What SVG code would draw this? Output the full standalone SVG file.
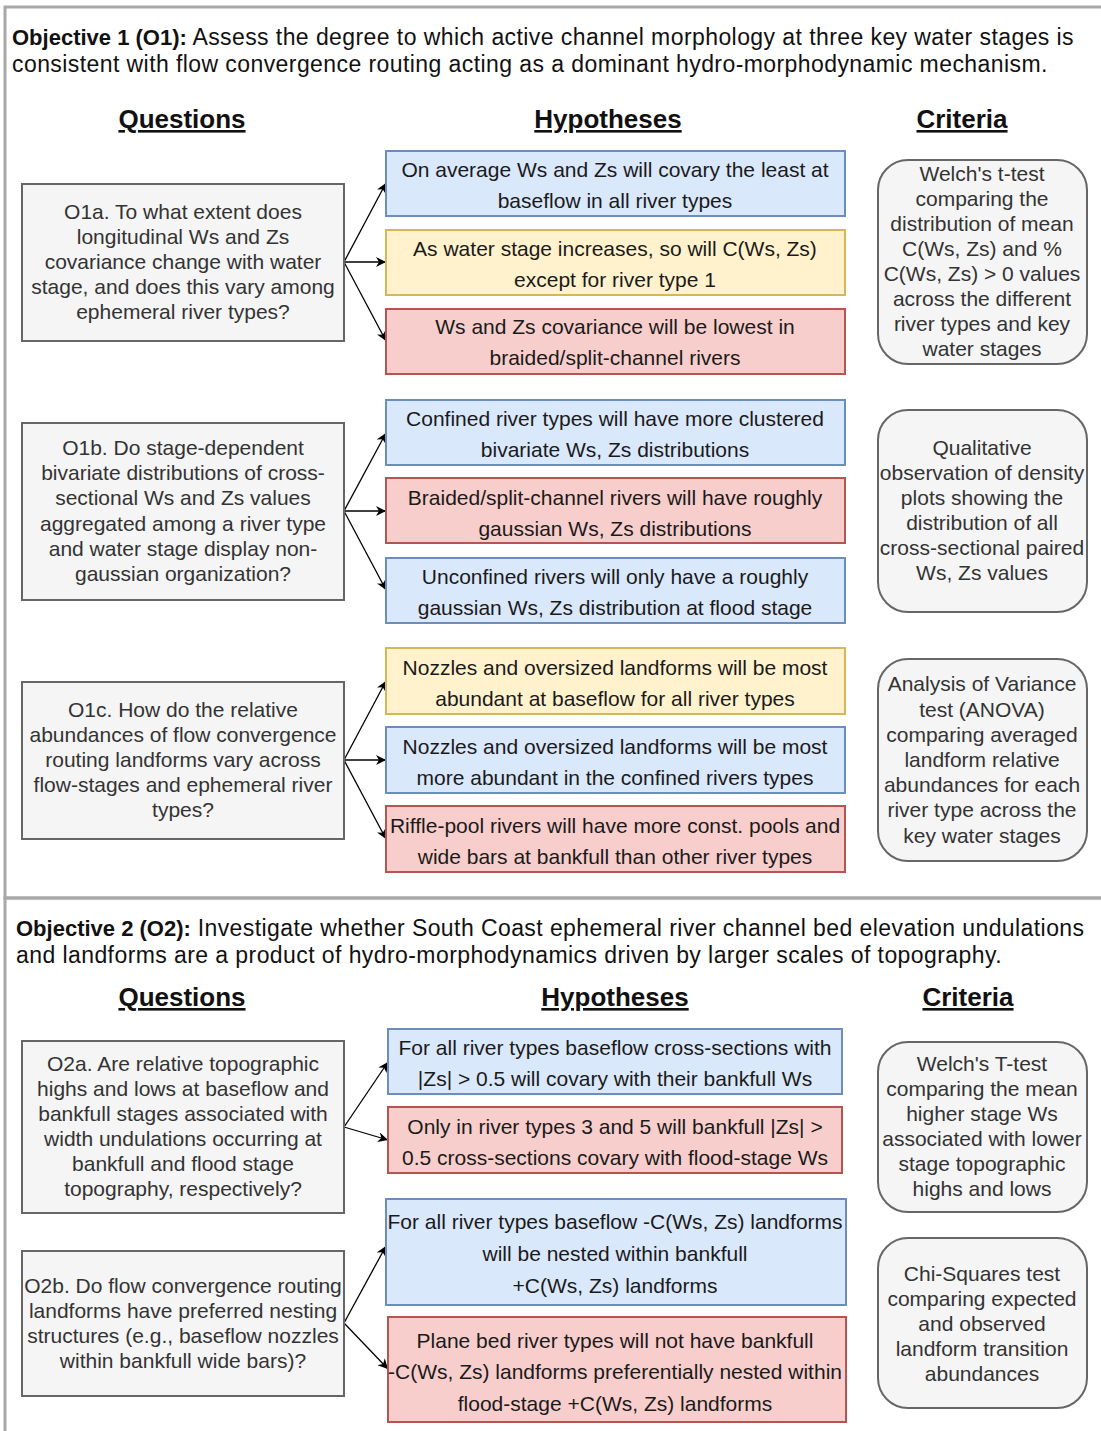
<svg xmlns="http://www.w3.org/2000/svg" width="1101" height="1431" viewBox="0 0 1101 1431">
<defs>
<style>
text{font-family:"Liberation Sans",Arial,sans-serif}
.t{font-size:23px;fill:#111;letter-spacing:0.42px}
.b{font-weight:bold;font-size:22px;letter-spacing:0}
.h{font-size:26px;font-weight:bold;fill:#111;text-anchor:middle;text-decoration:underline}
.q rect{fill:#f5f5f5;stroke:#666;stroke-width:2}
.q text{font-size:21px;fill:#333;text-anchor:middle}
.c text{font-size:21px;fill:#333;text-anchor:middle}
.c rect{fill:#f5f5f5;stroke:#666;stroke-width:2}
.hy text{font-size:21px;fill:#1a1a1a;text-anchor:middle}
.bl rect{fill:#dae8fc;stroke:#6c8ebf;stroke-width:2}
.ye rect{fill:#fff2cc;stroke:#d6b656;stroke-width:2}
.re rect{fill:#f8cecc;stroke:#b85450;stroke-width:2}
.e{stroke:#000;stroke-width:1.3;fill:none;marker-end:url(#ah)}
.frame{fill:none;stroke:#a8a8a8;stroke-width:3}
</style>
<marker id="ah" markerUnits="userSpaceOnUse" markerWidth="12" markerHeight="10" refX="10" refY="5" orient="auto">
<path d="M0,0 L10,5 L0,10 L3,5 z" fill="#000"/>
</marker>
</defs>
<rect x="0" y="0" width="1101" height="1431" fill="#fff"/>
<rect class="frame" x="5" y="7" width="1110" height="891"/>
<rect class="frame" x="5" y="898" width="1110" height="560"/>

<g id="title1">
<text class="t" x="12" y="45"><tspan class="b">Objective 1 (O1):</tspan> Assess the degree to which active channel morphology at three key water stages is</text>
<text class="t" x="12" y="72">consistent with flow convergence routing acting as a dominant hydro-morphodynamic mechanism.</text>
<text class="h" x="182" y="128">Questions</text>
<text class="h" x="608" y="128">Hypotheses</text>
<text class="h" x="962" y="128">Criteria</text>
</g>

<g id="connectors">
<line class="e" x1="344" y1="262" x2="386" y2="183"/>
<line class="e" x1="344" y1="262" x2="386" y2="262"/>
<line class="e" x1="344" y1="262" x2="386" y2="341"/>
<line class="e" x1="344" y1="511" x2="386" y2="433"/>
<line class="e" x1="344" y1="511" x2="386" y2="511"/>
<line class="e" x1="344" y1="511" x2="386" y2="590"/>
<line class="e" x1="344" y1="760" x2="386" y2="681"/>
<line class="e" x1="344" y1="760" x2="386" y2="760"/>
<line class="e" x1="344" y1="760" x2="386" y2="839"/>
<line class="e" x1="344" y1="1127" x2="388" y2="1062"/>
<line class="e" x1="344" y1="1127" x2="388" y2="1140"/>
<line class="e" x1="344" y1="1323" x2="386" y2="1246"/>
<line class="e" x1="344" y1="1323" x2="388" y2="1369"/>
</g>

<g id="q1a" class="q"><rect x="22" y="184" width="322" height="157"/>
<text x="183" y="219">O1a. To what extent does</text>
<text x="183" y="244">longitudinal Ws and Zs</text>
<text x="183" y="269">covariance change with water</text>
<text x="183" y="294">stage, and does this vary among</text>
<text x="183" y="319">ephemeral river types?</text></g>

<g id="h1a1" class="hy bl"><rect x="386" y="151" width="459" height="65"/>
<text x="615" y="177">On average Ws and Zs will covary the least at</text>
<text x="615" y="208">baseflow in all river types</text></g>
<g id="h1a2" class="hy ye"><rect x="386" y="230" width="459" height="65"/>
<text x="615" y="256">As water stage increases, so will C(Ws, Zs)</text>
<text x="615" y="287">except for river type 1</text></g>
<g id="h1a3" class="hy re"><rect x="386" y="309" width="459" height="65"/>
<text x="615" y="334">Ws and Zs covariance will be lowest in</text>
<text x="615" y="365">braided/split-channel rivers</text></g>

<g id="c1" class="c"><rect x="878" y="160" width="209" height="204" rx="30" ry="30"/>
<text x="982" y="181">Welch's t-test</text>
<text x="982" y="206">comparing the</text>
<text x="982" y="231">distribution of mean</text>
<text x="982" y="256">C(Ws, Zs) and %</text>
<text x="982" y="281">C(Ws, Zs) &gt; 0 values</text>
<text x="982" y="306">across the different</text>
<text x="982" y="331">river types and key</text>
<text x="982" y="356">water stages</text></g>

<g id="q1b" class="q"><rect x="22" y="423" width="322" height="177"/>
<text x="183" y="455">O1b. Do stage-dependent</text>
<text x="183" y="480">bivariate distributions of cross-</text>
<text x="183" y="505">sectional Ws and Zs values</text>
<text x="183" y="531">aggregated among a river type</text>
<text x="183" y="556">and water stage display non-</text>
<text x="183" y="581">gaussian organization?</text></g>

<g id="h1b1" class="hy bl"><rect x="386" y="400" width="459" height="65"/>
<text x="615" y="426">Confined river types will have more clustered</text>
<text x="615" y="457">bivariate Ws, Zs distributions</text></g>
<g id="h1b2" class="hy re"><rect x="386" y="478" width="459" height="65"/>
<text x="615" y="505">Braided/split-channel rivers will have roughly</text>
<text x="615" y="536">gaussian Ws, Zs distributions</text></g>
<g id="h1b3" class="hy bl"><rect x="386" y="558" width="459" height="65"/>
<text x="615" y="584">Unconfined rivers will only have a roughly</text>
<text x="615" y="615">gaussian Ws, Zs distribution at flood stage</text></g>

<g id="c2" class="c"><rect x="878" y="410" width="209" height="202" rx="30" ry="30"/>
<text x="982" y="455">Qualitative</text>
<text x="982" y="480">observation of density</text>
<text x="982" y="505">plots showing the</text>
<text x="982" y="530">distribution of all</text>
<text x="982" y="555">cross-sectional paired</text>
<text x="982" y="580">Ws, Zs values</text></g>

<g id="q1c" class="q"><rect x="22" y="682" width="322" height="157"/>
<text x="183" y="717">O1c. How do the relative</text>
<text x="183" y="742">abundances of flow convergence</text>
<text x="183" y="767">routing landforms vary across</text>
<text x="183" y="792">flow-stages and ephemeral river</text>
<text x="183" y="817">types?</text></g>

<g id="h1c1" class="hy ye"><rect x="386" y="648" width="459" height="66"/>
<text x="615" y="675">Nozzles and oversized landforms will be most</text>
<text x="615" y="706">abundant at baseflow for all river types</text></g>
<g id="h1c2" class="hy bl"><rect x="386" y="727" width="459" height="66"/>
<text x="615" y="754">Nozzles and oversized landforms will be most</text>
<text x="615" y="785">more abundant in the confined rivers types</text></g>
<g id="h1c3" class="hy re"><rect x="386" y="806" width="459" height="66"/>
<text x="615" y="833">Riffle-pool rivers will have more const. pools and</text>
<text x="615" y="864">wide bars at bankfull than other river types</text></g>

<g id="c3" class="c"><rect x="878" y="659" width="209" height="202" rx="30" ry="30"/>
<text x="982" y="691">Analysis of Variance</text>
<text x="982" y="717">test (ANOVA)</text>
<text x="982" y="742">comparing averaged</text>
<text x="982" y="767">landform relative</text>
<text x="982" y="792">abundances for each</text>
<text x="982" y="817">river type across the</text>
<text x="982" y="843">key water stages</text></g>

<g id="title2">
<text class="t" x="16" y="936"><tspan class="b">Objective 2 (O2):</tspan> Investigate whether South Coast ephemeral river channel bed elevation undulations</text>
<text class="t" x="16" y="963">and landforms are a product of hydro-morphodynamics driven by larger scales of topography.</text>
<text class="h" x="182" y="1006">Questions</text>
<text class="h" x="615" y="1006">Hypotheses</text>
<text class="h" x="968" y="1006">Criteria</text>
</g>

<g id="q2a" class="q"><rect x="22" y="1041" width="322" height="172"/>
<text x="183" y="1071">O2a. Are relative topographic</text>
<text x="183" y="1096">highs and lows at baseflow and</text>
<text x="183" y="1121">bankfull stages associated with</text>
<text x="183" y="1146">width undulations occurring at</text>
<text x="183" y="1171">bankfull and flood stage</text>
<text x="183" y="1196">topography, respectively?</text></g>

<g id="h2a1" class="hy bl"><rect x="388" y="1029" width="454" height="65"/>
<text x="615" y="1055">For all river types baseflow cross-sections with</text>
<text x="615" y="1086">|Zs| &gt; 0.5 will covary with their bankfull Ws</text></g>
<g id="h2a2" class="hy re"><rect x="388" y="1107" width="454" height="66"/>
<text x="615" y="1134">Only in river types 3 and 5 will bankfull |Zs| &gt;</text>
<text x="615" y="1165">0.5 cross-sections covary with flood-stage Ws</text></g>

<g id="c4" class="c"><rect x="878" y="1042" width="209" height="170" rx="30" ry="30"/>
<text x="982" y="1071">Welch's T-test</text>
<text x="982" y="1096">comparing the mean</text>
<text x="982" y="1121">higher stage Ws</text>
<text x="982" y="1146">associated with lower</text>
<text x="982" y="1171">stage topographic</text>
<text x="982" y="1196">highs and lows</text></g>

<g id="q2b" class="q"><rect x="22" y="1251" width="322" height="145"/>
<text x="183" y="1293">O2b. Do flow convergence routing</text>
<text x="183" y="1318">landforms have preferred nesting</text>
<text x="183" y="1343">structures (e.g., baseflow nozzles</text>
<text x="183" y="1368">within bankfull wide bars)?</text></g>

<g id="h2b1" class="hy bl"><rect x="386" y="1199" width="460" height="106"/>
<text x="615" y="1229">For all river types baseflow -C(Ws, Zs) landforms</text>
<text x="615" y="1261">will be nested within bankfull</text>
<text x="615" y="1293">+C(Ws, Zs) landforms</text></g>
<g id="h2b2" class="hy re"><rect x="388" y="1317" width="458" height="105"/>
<text x="615" y="1348">Plane bed river types will not have bankfull</text>
<text x="615" y="1379">-C(Ws, Zs) landforms preferentially nested within</text>
<text x="615" y="1411">flood-stage +C(Ws, Zs) landforms</text></g>

<g id="c5" class="c"><rect x="878" y="1238" width="209" height="170" rx="30" ry="30"/>
<text x="982" y="1281">Chi-Squares test</text>
<text x="982" y="1306">comparing expected</text>
<text x="982" y="1331">and observed</text>
<text x="982" y="1356">landform transition</text>
<text x="982" y="1381">abundances</text></g>
</svg>
